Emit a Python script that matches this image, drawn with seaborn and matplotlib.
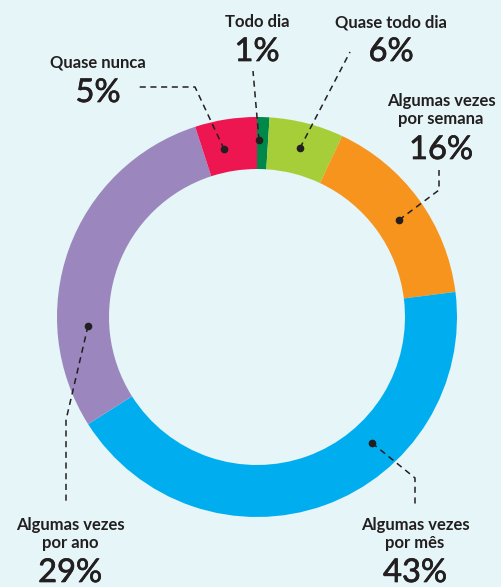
import matplotlib
matplotlib.use("Agg")
import matplotlib.pyplot as plt
import matplotlib.patheffects as pe
import seaborn as sns

# Data
categories = ["Todo dia", "Quase todo dia", "Algumas vezes\npor semana",
              "Algumas vezes\npor mês", "Algumas vezes\npor ano", "Quase nunca"]
values = [1, 6, 16, 43, 29, 5]
colors = ["#00884a", "#a6ce39", "#f7941d", "#00aeef", "#9b87be", "#ed1651"]

BG = "#e6f5f7"
TXT = "#231f20"

sns.set_theme(style="white")
plt.rcParams["font.family"] = ["Lato", "DejaVu Sans"]

W, H = 502, 587
fig = plt.figure(figsize=(W / 100, H / 100), dpi=100, facecolor=BG)
ax = fig.add_axes([0, 0, 1, 1], facecolor=BG)

def Y(y):
    return H - y

cx, cy, R, ring = 257, Y(317), 200, 52
ax.pie(values, colors=colors, startangle=90, counterclock=False,
       center=(cx, cy), radius=R,
       wedgeprops=dict(width=ring, linewidth=0.6, edgecolor="none"))
ax.set_xlim(0, W)
ax.set_ylim(0, H)
ax.set_aspect("equal")
ax.axis("off")

# label blocks: (label x, name y, pct y)
label_pos = [
    (257, 22, 52),
    (391, 22, 52),
    (441, 110, 150),
    (415, 534, 573),
    (70, 534, 573),
    (98, 62, 93),
]
thick = [pe.withStroke(linewidth=0.5, foreground=TXT)]
for cat, val, (lx, ny, py) in zip(categories, values, label_pos):
    ax.text(lx, Y(ny), cat, ha="center", va="center", fontsize=12,
            fontweight="bold", color=TXT, linespacing=1.15)
    ax.text(lx, Y(py), f"{val}%", ha="center", va="center", fontsize=23.5,
            color=TXT, path_effects=thick)

# leader lines (pixel paths) with end dots
leaders = [
    [(259, 140), (253, 71)],
    [(300, 148), (350, 52)],
    [(399, 220), (439, 190), (439, 170)],
    [(372, 443), (415, 478), (415, 505)],
    [(88, 326), (66, 420), (66, 505)],
    [(224, 149), (195, 87), (138, 87)],
]
for path in leaders:
    xs = [p[0] for p in path]
    ys = [Y(p[1]) for p in path]
    ax.plot(xs, ys, color=TXT, lw=1.1, ls=(0, (4, 3)))
    ax.plot(xs[0], ys[0], "o", color=TXT, ms=4.5)

fig.savefig("out.png", dpi=100, facecolor=BG)
